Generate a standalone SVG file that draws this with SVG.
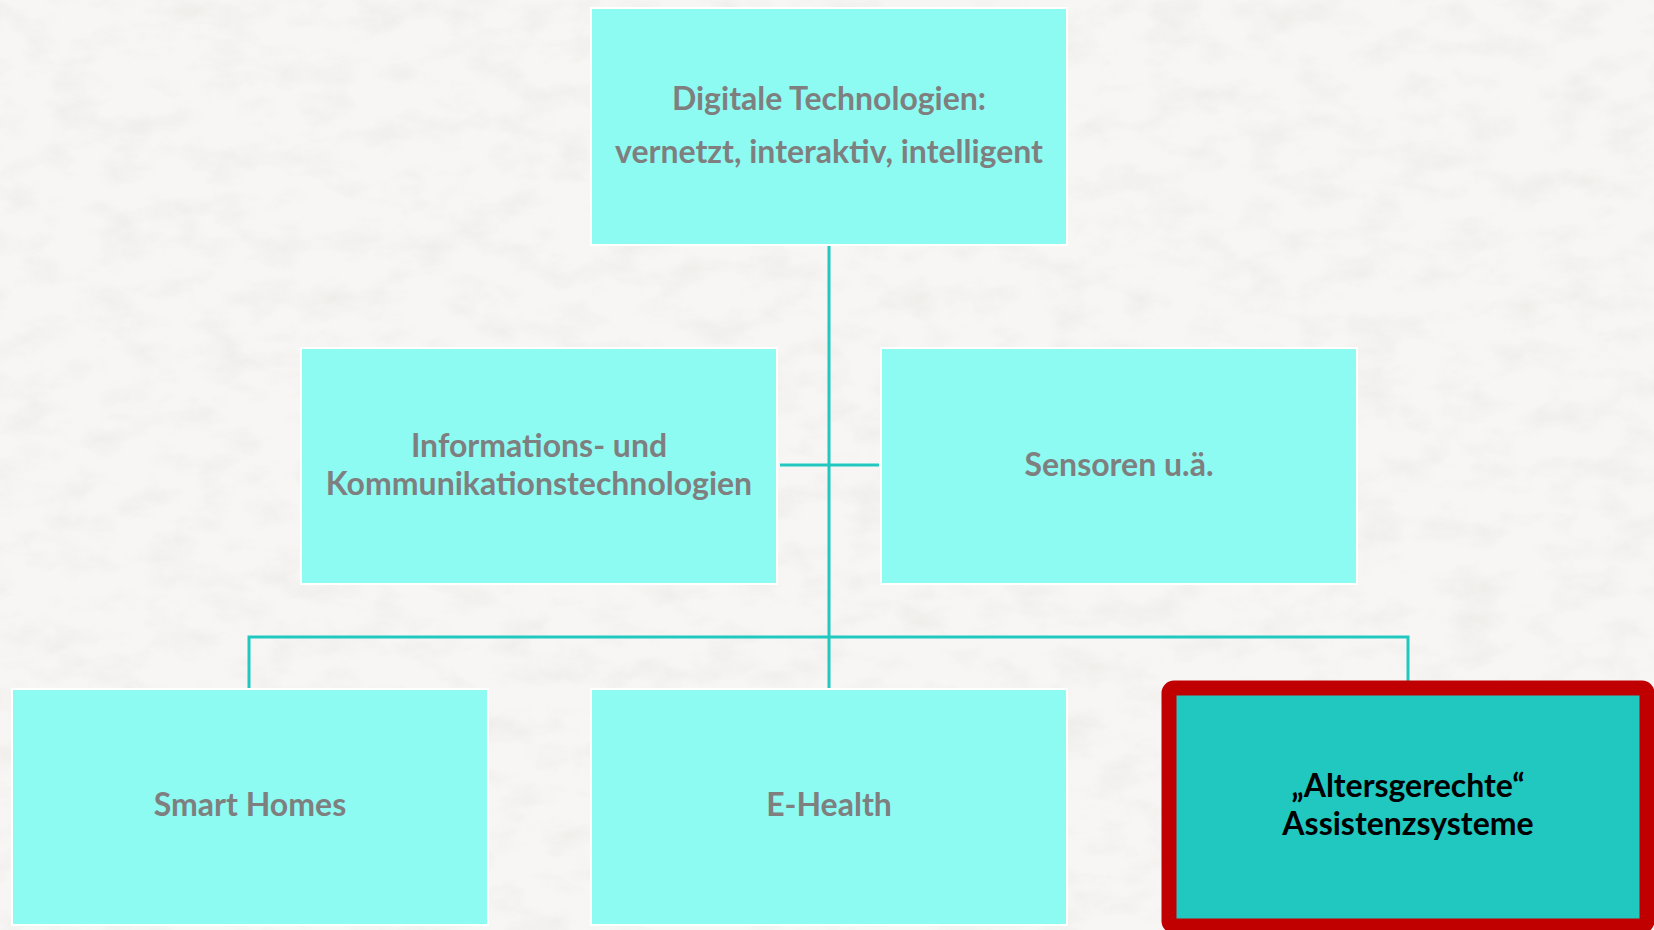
<svg xmlns="http://www.w3.org/2000/svg" width="1654" height="930" viewBox="0 0 1654 930">
<defs>
<filter id="paper" x="0" y="0" width="100%" height="100%">
<feTurbulence type="fractalNoise" baseFrequency="0.02 0.035" numOctaves="4" seed="7" result="n"/>
<feColorMatrix in="n" type="matrix" values="0 0 0 0 0.55  0 0 0 0 0.52  0 0 0 0 0.50  0 0 0 -1.1 0.62"/>
</filter>
</defs>
<style>
.box{fill:#8EFBF3;stroke:#FFFFFF;stroke-width:2}
.lbl{font-family:"Lato","Open Sans","Liberation Sans",sans-serif;font-weight:bold;font-size:32px;fill:#7F7F7F;text-anchor:middle}
.dark{fill:#000000}
.con{stroke:#20C8C0;stroke-width:3;fill:none}
</style>
<rect x="0" y="0" width="1654" height="930" fill="#F8F6F4"/>
<rect x="0" y="0" width="1654" height="930" filter="url(#paper)" opacity="0.3"/>
<g id="connectors">
<line class="con" x1="829" y1="246" x2="829" y2="688"/>
<line class="con" x1="780" y1="465" x2="879" y2="465"/>
<polyline class="con" points="249,688 249,637 1408,637 1408,681"/>
</g>
<g id="node-digitale">
<rect class="box" x="591" y="8" width="476" height="237"/>
<text class="lbl" x="829" y="110">Digitale Technologien:</text>
<text class="lbl" x="829" y="163">vernetzt, interaktiv, intelligent</text>
</g>
<g id="node-iuk">
<rect class="box" x="301" y="348" width="476" height="236"/>
<text class="lbl" x="539" y="457">Informations- und</text>
<text class="lbl" x="539" y="495">Kommunikationstechnologien</text>
</g>
<g id="node-sensoren">
<rect class="box" x="881" y="348" width="476" height="236"/>
<text class="lbl" x="1119" y="476">Sensoren u.ä.</text>
</g>
<g id="node-smarthomes">
<rect class="box" x="12" y="689" width="476" height="236"/>
<text class="lbl" x="250" y="816">Smart Homes</text>
</g>
<g id="node-ehealth">
<rect class="box" x="591" y="689" width="476" height="236"/>
<text class="lbl" x="829" y="816">E-Health</text>
</g>
<g id="node-assistenz">
<rect x="1169" y="688" width="478" height="238" rx="5" ry="5" fill="#20C8C0" stroke="#C00000" stroke-width="15"/>
<text class="lbl dark" x="1408" y="797">„Altersgerechte“</text>
<text class="lbl dark" x="1408" y="835">Assistenzsysteme</text>
</g>
</svg>
